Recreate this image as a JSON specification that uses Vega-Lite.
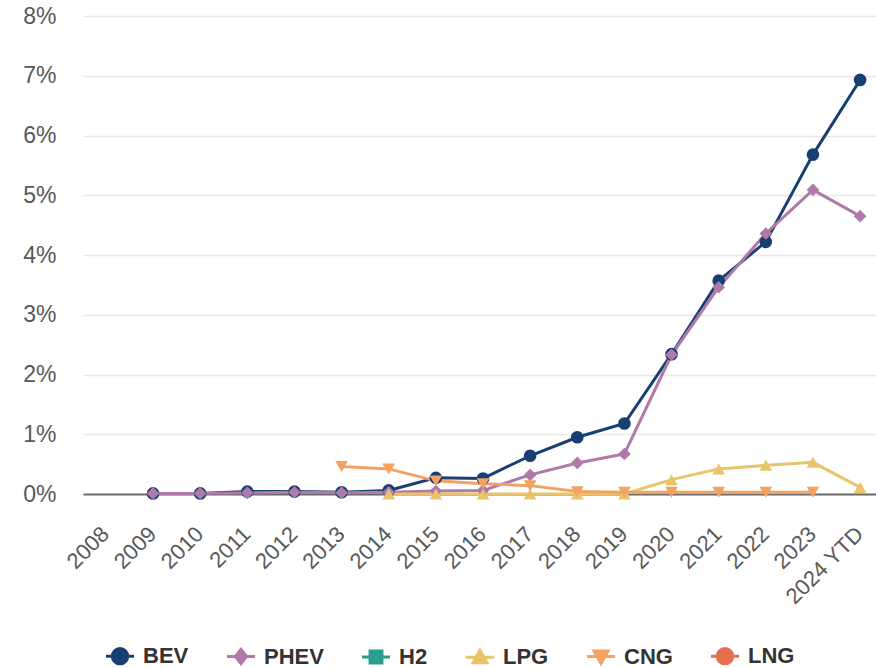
{
  "$schema": "https://vega.github.io/schema/vega-lite/v6.json",
  "width": 800,
  "height": 478,
  "autosize": {"type": "none"},
  "padding": {"left": 83, "top": 16, "right": -7, "bottom": 174},
  "background": "white",
  "config": {
    "view": {"stroke": null},
    "font": "Liberation Sans",
    "axis": {"labelFont": "Liberation Sans", "labelColor": "#595959", "labelFontSize": 23}
  },
  "data": {
    "values": [
      {"year": "2009", "series": "BEV", "value": 0.01},
      {"year": "2010", "series": "BEV", "value": 0.01},
      {"year": "2011", "series": "BEV", "value": 0.04},
      {"year": "2012", "series": "BEV", "value": 0.04},
      {"year": "2013", "series": "BEV", "value": 0.03},
      {"year": "2014", "series": "BEV", "value": 0.06},
      {"year": "2015", "series": "BEV", "value": 0.27},
      {"year": "2016", "series": "BEV", "value": 0.26},
      {"year": "2017", "series": "BEV", "value": 0.64},
      {"year": "2018", "series": "BEV", "value": 0.95},
      {"year": "2019", "series": "BEV", "value": 1.18},
      {"year": "2020", "series": "BEV", "value": 2.34},
      {"year": "2021", "series": "BEV", "value": 3.57},
      {"year": "2022", "series": "BEV", "value": 4.22},
      {"year": "2023", "series": "BEV", "value": 5.68},
      {"year": "2024 YTD", "series": "BEV", "value": 6.93},
      {"year": "2009", "series": "PHEV", "value": 0.01},
      {"year": "2010", "series": "PHEV", "value": 0.01},
      {"year": "2011", "series": "PHEV", "value": 0.02},
      {"year": "2012", "series": "PHEV", "value": 0.03},
      {"year": "2013", "series": "PHEV", "value": 0.02},
      {"year": "2014", "series": "PHEV", "value": 0.03},
      {"year": "2015", "series": "PHEV", "value": 0.05},
      {"year": "2016", "series": "PHEV", "value": 0.06},
      {"year": "2017", "series": "PHEV", "value": 0.32},
      {"year": "2018", "series": "PHEV", "value": 0.52},
      {"year": "2019", "series": "PHEV", "value": 0.67},
      {"year": "2020", "series": "PHEV", "value": 2.33},
      {"year": "2021", "series": "PHEV", "value": 3.46},
      {"year": "2022", "series": "PHEV", "value": 4.36},
      {"year": "2023", "series": "PHEV", "value": 5.09},
      {"year": "2024 YTD", "series": "PHEV", "value": 4.65},
      {"year": "2014", "series": "LPG", "value": 0.0},
      {"year": "2015", "series": "LPG", "value": 0.0},
      {"year": "2016", "series": "LPG", "value": 0.0},
      {"year": "2017", "series": "LPG", "value": 0.0},
      {"year": "2018", "series": "LPG", "value": 0.0},
      {"year": "2019", "series": "LPG", "value": 0.0},
      {"year": "2020", "series": "LPG", "value": 0.24},
      {"year": "2021", "series": "LPG", "value": 0.42},
      {"year": "2022", "series": "LPG", "value": 0.48},
      {"year": "2023", "series": "LPG", "value": 0.53},
      {"year": "2024 YTD", "series": "LPG", "value": 0.11},
      {"year": "2013", "series": "CNG", "value": 0.46},
      {"year": "2014", "series": "CNG", "value": 0.42},
      {"year": "2015", "series": "CNG", "value": 0.22},
      {"year": "2016", "series": "CNG", "value": 0.17},
      {"year": "2017", "series": "CNG", "value": 0.14},
      {"year": "2018", "series": "CNG", "value": 0.04},
      {"year": "2019", "series": "CNG", "value": 0.03},
      {"year": "2020", "series": "CNG", "value": 0.03},
      {"year": "2021", "series": "CNG", "value": 0.03},
      {"year": "2022", "series": "CNG", "value": 0.03},
      {"year": "2023", "series": "CNG", "value": 0.03}
    ]
  },
  "encoding": {
    "x": {
      "field": "year",
      "type": "ordinal",
      "scale": {
        "domain": ["2008","2009","2010","2011","2012","2013","2014","2015","2016","2017","2018","2019","2020","2021","2022","2023","2024 YTD"],
        "padding": 0.486
      },
      "axis": {
        "title": null,
        "labelAngle": -45,
        "labelFontSize": 22,
        "ticks": false,
        "domainColor": "#6b6b6b",
        "domainWidth": 2,
        "labelPadding": 29,
        "labelOffset": -8,
        "grid": false
      }
    },
    "y": {
      "field": "value",
      "type": "quantitative",
      "scale": {"domain": [0, 8], "nice": false},
      "axis": {
        "title": null,
        "values": [0,1,2,3,4,5,6,7,8],
        "labelExpr": "datum.value + '%'",
        "ticks": false,
        "domain": false,
        "labelPadding": 27,
        "gridColor": "#e8e8e8",
        "gridWidth": 1.5
      }
    },
    "color": {
      "field": "series",
      "type": "nominal",
      "scale": {
        "domain": ["BEV","PHEV","H2","LPG","CNG","LNG"],
        "range": ["#173f72","#b07aa8","#2a9d8f","#e9c46a","#f4a261","#e76f51"]
      },
      "legend": null
    }
  },
  "layer": [
    {
      "mark": {"type": "line", "strokeWidth": 3},
      "encoding": {
        "order": {"field": "year"}
      }
    },
    {
      "mark": {"type": "point", "filled": true, "opacity": 1, "size": 160},
      "encoding": {
        "shape": {
          "field": "series",
          "type": "nominal",
          "scale": {
            "domain": ["BEV","PHEV","H2","LPG","CNG","LNG"],
            "range": ["circle","diamond","square","triangle-up","triangle-down","circle"]
          },
          "legend": null
        }
      }
    },
    {
      "mark": {"type": "point", "filled": true, "opacity": 0, "size": 196},
      "encoding": {
        "color": {
          "field": "series",
          "type": "nominal",
          "legend": {
            "title": null,
            "orient": "none",
            "legendX": 26,
            "legendY": 629,
            "direction": "horizontal",
            "symbolOpacity": 1,
            "symbolSize": 196,
            "symbolStrokeWidth": 3,
            "labelFont": "Liberation Sans",
            "labelFontSize": 22,
            "labelFontWeight": "bold",
            "labelColor": "#333333",
            "labelOffset": 12,
            "columnPadding": 32,
            "encode": {
              "symbols": {
                "update": {
                  "stroke": {"scale": "color", "field": "value"},
                  "strokeWidth": {"value": 3},
                  "opacity": {"value": 1}
                }
              }
            }
          }
        },
        "shape": {
          "field": "series",
          "type": "nominal",
          "scale": {
            "domain": ["BEV","PHEV","H2","LPG","CNG","LNG"],
            "range": [
              "M-2,0H2M-1.1,0A1.1,1.1 0 1,0 1.1,0A1.1,1.1 0 1,0 -1.1,0Z",
              "M-2,0H2M0,-1L0.8,0L0,1L-0.8,0Z",
              "M-2,0H2M-0.85,-0.85H0.85V0.85H-0.85Z",
              "M-2,0H2M0,-1L1,0.8H-1Z",
              "M-2,0H2M0,1L1,-0.8H-1Z",
              "M-2,0H2M-1.1,0A1.1,1.1 0 1,0 1.1,0A1.1,1.1 0 1,0 -1.1,0Z"
            ]
          },
          "legend": {
            "title": null,
            "orient": "none",
            "legendX": 26,
            "legendY": 629,
            "direction": "horizontal",
            "symbolOpacity": 1,
            "symbolSize": 196,
            "symbolStrokeWidth": 3,
            "labelFont": "Liberation Sans",
            "labelFontSize": 22,
            "labelFontWeight": "bold",
            "labelColor": "#333333",
            "labelOffset": 12,
            "columnPadding": 32,
            "encode": {
              "symbols": {
                "update": {
                  "stroke": {"scale": "color", "field": "value"},
                  "strokeWidth": {"value": 3},
                  "opacity": {"value": 1}
                }
              }
            }
          }
        }
      }
    }
  ],
  "resolve": {
    "scale": {"shape": "independent"},
    "legend": {"shape": "independent", "color": "independent"}
  }
}
